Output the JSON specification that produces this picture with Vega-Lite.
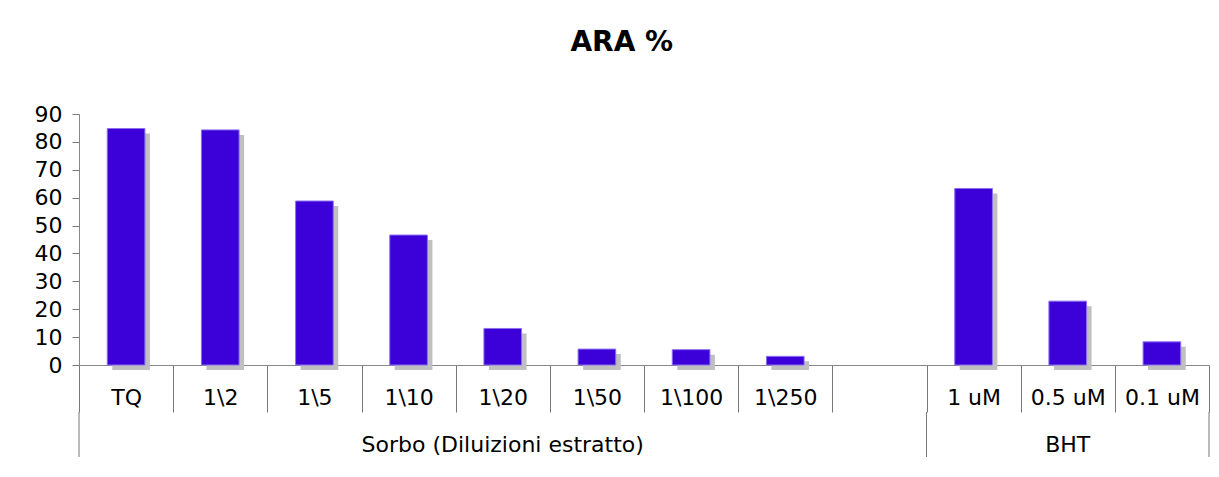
{
  "$schema": "https://vega.github.io/schema/vega-lite/v6.json",
  "padding": {"left": 34, "top": 29, "right": 5, "bottom": 5},
  "background": "white",
  "title": {"text": "ARA %", "fontSize": 28, "fontWeight": "bold", "font": "DejaVu Sans", "color": "black", "anchor": "middle", "offset": 46},
  "config": {"font": "DejaVu Sans", "view": {"stroke": null}},
  "bounds": "flush",
  "spacing": 47,
  "datasets": {
    "bars": [
      {"cat": "TQ", "value": 84.8},
      {"cat": "1\\2", "value": 84.3},
      {"cat": "1\\5", "value": 58.8},
      {"cat": "1\\10", "value": 46.6},
      {"cat": "1\\20", "value": 13.1},
      {"cat": "1\\50", "value": 5.7},
      {"cat": "1\\100", "value": 5.5},
      {"cat": "1\\250", "value": 3.1},
      {"cat": "1 uM", "value": 63.3},
      {"cat": "0.5 uM", "value": 22.9},
      {"cat": "0.1 uM", "value": 8.3}
    ],
    "groups": [
      {"group": "Sorbo (Diluizioni estratto)", "start": 0, "end": 9, "mid": 4.5},
      {"group": "BHT", "start": 9, "end": 12, "mid": 10.5}
    ]
  },
  "vconcat": [
    {
      "width": 1130,
      "height": 251,
      "data": {"name": "bars"},
      "encoding": {
        "x": {
          "field": "cat", "type": "nominal",
          "scale": {"domain": ["TQ", "1\\2", "1\\5", "1\\10", "1\\20", "1\\50", "1\\100", "1\\250", " ", "1 uM", "0.5 uM", "0.1 uM"], "paddingInner": 0, "paddingOuter": 0},
          "axis": {"title": null, "labelAngle": 0, "tickBand": "extent", "tickSize": 47, "labelPadding": -25, "labelFontSize": 22, "labelColor": "black", "domainColor": "#888888", "tickColor": "#777777", "labelFont": "DejaVu Sans"}
        },
        "y": {
          "field": "value", "type": "quantitative",
          "scale": {"domain": [0, 90], "nice": false},
          "axis": {"title": null, "values": [0, 10, 20, 30, 40, 50, 60, 70, 80, 90], "grid": false, "tickSize": 7, "labelPadding": 10, "labelFontSize": 22, "labelColor": "black", "domainColor": "#888888", "tickColor": "#777777", "labelFont": "DejaVu Sans"}
        }
      },
      "layer": [
        {"mark": {"type": "bar", "width": {"band": 0.4}, "color": "#c0c0c0", "xOffset": 5, "x2Offset": 5, "yOffset": 5}},
        {"mark": {"type": "bar", "width": {"band": 0.4}, "color": "#3c00d8", "stroke": "#8a70f0", "strokeWidth": 1}}
      ]
    },
    {
      "width": 1130,
      "height": 45,
      "data": {"name": "groups"},
      "layer": [
        {"mark": {"type": "rule", "color": "#777777"}, "encoding": {"x": {"field": "start", "type": "quantitative", "scale": {"domain": [0, 12], "nice": false, "zero": false}, "axis": null}}},
        {"mark": {"type": "rule", "color": "#777777"}, "encoding": {"x": {"field": "end", "type": "quantitative", "axis": null}}},
        {"mark": {"type": "text", "fontSize": 22, "font": "DejaVu Sans", "color": "black", "baseline": "alphabetic", "dy": 17}, "encoding": {"x": {"field": "mid", "type": "quantitative", "axis": null}, "text": {"field": "group"}}}
      ]
    }
  ]
}
